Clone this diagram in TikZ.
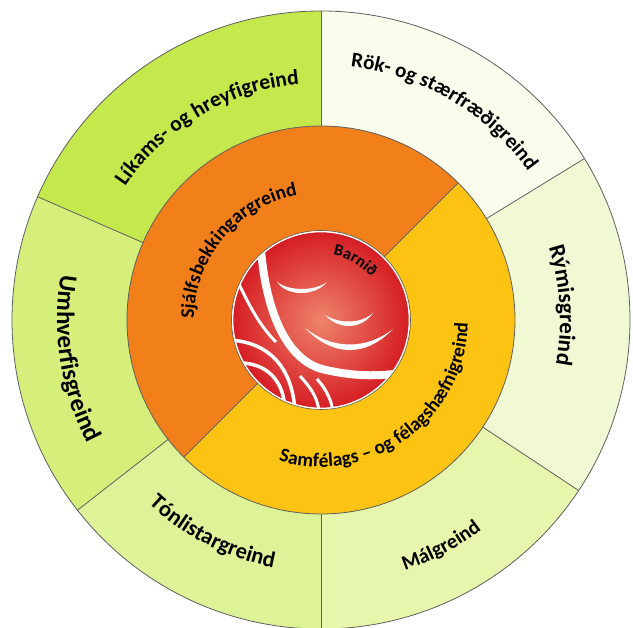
\documentclass[tikz,border=0pt]{standalone}
\usepackage{fontspec}
\setmainfont{Carlito}
\usepackage{tikz}
\usetikzlibrary{decorations.text}

\definecolor{likams}{RGB}{197,232,76}
\definecolor{umhverfis}{RGB}{213,239,122}
\definecolor{tonlist}{RGB}{222,243,152}
\definecolor{malgr}{RGB}{230,246,172}
\definecolor{rymis}{RGB}{240,249,212}
\definecolor{rok}{RGB}{250,253,236}
\definecolor{sjalfs}{RGB}{241,128,27}
\definecolor{samfel}{RGB}{253,195,18}
\definecolor{rimline}{RGB}{95,95,95}

\newcommand{\ringseg}[5]{\fill[#1] (#2:#4) arc[start angle=#2, end angle=#3, radius=#4] -- (#3:#5) arc[start angle=#3, end angle=#2, radius=#5] -- cycle;}
\newcommand{\arctext}[5]{\path[decorate, decoration={text along path, text align=center, text={|\fontsize{#1}{#1}\selectfont\bfseries|#5}}] (#3:#2) arc[start angle=#3, end angle=#4, radius=#2];}

\begin{document}
\begin{tikzpicture}[x=1pt, y=1pt, rim/.style={rimline, line width=0.8pt}]
\useasboundingbox (-321,-308) rectangle (312,320);
\ringseg{likams}{90}{156.5}{309}{194}
\ringseg{umhverfis}{156.5}{218}{309}{194}
\ringseg{tonlist}{218}{270}{309}{194}
\ringseg{malgr}{270}{326.5}{309}{194}
\ringseg{rymis}{-33.5}{31.5}{309}{194}
\ringseg{rok}{31.5}{90}{309}{194}
\ringseg{sjalfs}{45}{225}{194}{89}
\ringseg{samfel}{225}{405}{194}{89}
\draw[rim] (0,0) circle[radius=309];
\draw[rim] (0,0) circle[radius=194];
\foreach \a in {90,156.5,218,270,326.5,31.5}
  \draw[rim] (\a:194) -- (\a:309);
\draw[rim] (45:89) -- (45:194);
\draw[rim] (225:89) -- (225:194);
% barnid
\begin{scope}
\clip (0,0) circle[radius=88];
\shade[inner color={rgb,255:red,238;green,132;blue,108}, outer color={rgb,255:red,214;green,30;blue,36}] (0,0) circle[radius=88];
\fill[white] (-44,38) .. controls (-34,23.3) and (-6,23.3) .. (6,38) .. controls (-6,28.7) and (-32,28.7) .. cycle;
\fill[white] (4,5) .. controls (18,-10) and (40,-10) .. (52,7) .. controls (40,-4) and (18,-4) .. cycle;
\fill[white] (-16,-8) .. controls (12,-37.2) and (45,-37.2) .. (72,-9) .. controls (45,-29.8) and (12,-29.8) .. cycle;
\draw[white, line width=8pt] (-60,70) .. controls (-55,10) and (-35,-42) .. (5,-50) .. controls (40,-58) and (70,-56) .. (95,-50);
\draw[white, line width=3pt] (-85,42) .. controls (-72,15) and (-62,-5) .. (-45,-22);
\draw[white, line width=3.5pt] (-92,-20) .. controls (-50,-22) and (-28,-50) .. (-26,-92);
\draw[white, line width=3.5pt] (-78,-43) .. controls (-50,-45) and (-36,-65) .. (-36,-92);
\draw[white, line width=3pt] (-21,-56) .. controls (-8,-70) and (-3,-80) .. (-2,-92);
\draw[white, line width=3pt] (-4,-59) .. controls (6,-70) and (11,-82) .. (12,-92);
\end{scope}
\draw[white, line width=1.6pt] (0,0) circle[radius=88.5];
\draw[rimline, line width=0.6pt] (0,0) circle[radius=89.5];
% labels
\arctext{16.5}{66}{150}{-30}{Barnið}
\arctext{21.5}{237}{150.5}{90.5}{Líkams- og hreyfigreind}
\arctext{21}{255}{89.5}{29.5}{Rök- og stærfræðigreind}
\arctext{23}{239}{33.5}{-26.5}{Rýmisgreind}
\arctext{20.5}{264}{-92}{-32}{Málgreind}
\arctext{22.5}{252}{213}{273}{Tónlistargreind}
\arctext{25}{264}{159}{219}{Umhverfisgreind}
\arctext{19.5}{127}{230}{50}{Sjálfsbekkingargreind}
\arctext{19.5}{147}{-144}{36}{Samfélags – og félagshæfnigreind}
\end{tikzpicture}
\end{document}
